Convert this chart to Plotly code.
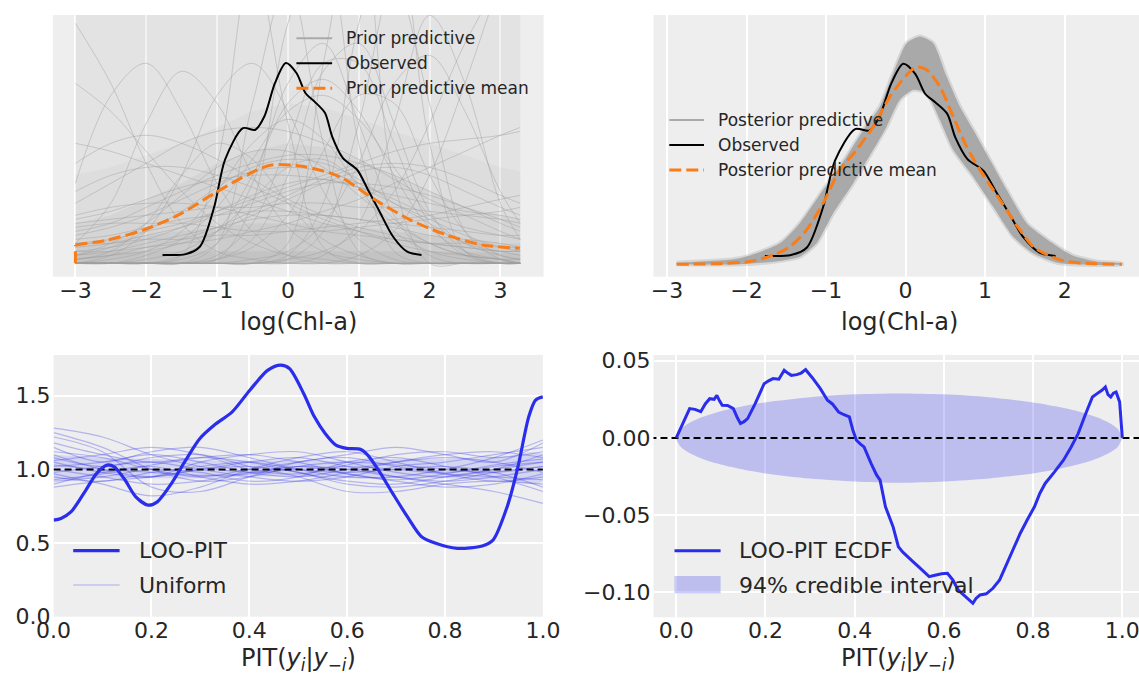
import plotly.graph_objects as go

W, H = 1139, 675

# ---------------- Top-left: prior predictive ----------------
prior_x = [-3.0, -2.5, -2.0, -1.5, -1.0, -0.5, 0.0, 0.5, 1.0, 1.5, 2.0, 2.5, 3.0, 3.28]
prior_lines = [
    [0.10, 0.11, 0.12, 0.13, 0.14, 0.14, 0.15, 0.15, 0.14, 0.14, 0.13, 0.12, 0.11, 0.10],
    [0.02, 0.04, 0.08, 0.13, 0.19, 0.24, 0.26, 0.25, 0.21, 0.15, 0.10, 0.05, 0.03, 0.02],
    [0.00, 0.00, 0.00, 0.00, 0.01, 0.15, 0.60, 0.80, 0.30, 0.03, 0.00, 0.00, 0.00, 0.00],
    [0.00, 0.00, 0.00, 0.00, 0.00, 0.00, 0.01, 0.03, 0.08, 0.18, 0.35, 0.55, 0.70, 0.75],
    [0.05, 0.15, 0.35, 0.48, 0.40, 0.22, 0.09, 0.03, 0.01, 0.00, 0.00, 0.00, 0.00, 0.00],
    [0.00, 0.00, 0.00, 0.02, 0.25, 0.75, 0.35, 0.04, 0.00, 0.00, 0.00, 0.00, 0.00, 0.00],
    [0.00, 0.00, 0.00, 0.00, 0.01, 0.04, 0.12, 0.28, 0.42, 0.40, 0.22, 0.08, 0.02, 0.01],
    [0.05, 0.06, 0.08, 0.10, 0.13, 0.16, 0.19, 0.22, 0.25, 0.28, 0.30, 0.31, 0.32, 0.33],
    [0.45, 0.38, 0.28, 0.18, 0.10, 0.05, 0.02, 0.01, 0.00, 0.00, 0.00, 0.00, 0.00, 0.00],
    [0.06, 0.07, 0.09, 0.11, 0.12, 0.13, 0.13, 0.12, 0.11, 0.09, 0.07, 0.06, 0.05, 0.04],
    [0.00, 0.00, 0.00, 0.00, 0.00, 0.00, 0.00, 0.02, 0.10, 0.35, 0.62, 0.45, 0.15, 0.06],
    [0.00, 0.01, 0.03, 0.08, 0.18, 0.30, 0.36, 0.31, 0.19, 0.08, 0.03, 0.01, 0.00, 0.00],
    [0.00, 0.00, 0.00, 0.00, 0.00, 0.00, 0.05, 0.50, 0.90, 0.20, 0.00, 0.00, 0.00, 0.00],
    [0.01, 0.02, 0.03, 0.05, 0.08, 0.12, 0.16, 0.20, 0.23, 0.24, 0.22, 0.18, 0.14, 0.12],
    [0.20, 0.42, 0.50, 0.38, 0.20, 0.08, 0.02, 0.00, 0.00, 0.00, 0.00, 0.00, 0.00, 0.00],
    [0.01, 0.03, 0.10, 0.22, 0.30, 0.26, 0.15, 0.06, 0.02, 0.00, 0.00, 0.00, 0.00, 0.00],
    [0.00, 0.00, 0.00, 0.00, 0.00, 0.00, 0.01, 0.08, 0.35, 0.70, 0.40, 0.08, 0.01, 0.00],
    [0.08, 0.10, 0.14, 0.18, 0.22, 0.25, 0.27, 0.27, 0.25, 0.22, 0.18, 0.14, 0.10, 0.08],
    [0.15, 0.20, 0.25, 0.30, 0.33, 0.34, 0.33, 0.30, 0.26, 0.21, 0.16, 0.12, 0.08, 0.06],
    [0.00, 0.00, 0.00, 0.00, 0.05, 0.40, 0.70, 0.30, 0.03, 0.00, 0.00, 0.00, 0.00, 0.00],
    [0.30, 0.28, 0.25, 0.22, 0.19, 0.16, 0.13, 0.10, 0.08, 0.06, 0.05, 0.04, 0.03, 0.03],
    [0.00, 0.00, 0.01, 0.03, 0.08, 0.16, 0.24, 0.26, 0.20, 0.11, 0.05, 0.02, 0.01, 0.00],
    [0.02, 0.03, 0.05, 0.07, 0.09, 0.11, 0.12, 0.12, 0.11, 0.10, 0.09, 0.08, 0.07, 0.07],
    [0.00, 0.00, 0.00, 0.01, 0.05, 0.20, 0.45, 0.55, 0.35, 0.12, 0.02, 0.00, 0.00, 0.00],
    [0.12, 0.14, 0.15, 0.15, 0.14, 0.12, 0.10, 0.08, 0.07, 0.06, 0.05, 0.05, 0.04, 0.04],
    [0.00, 0.00, 0.00, 0.00, 0.00, 0.01, 0.03, 0.10, 0.25, 0.45, 0.52, 0.38, 0.18, 0.10],
    [0.04, 0.05, 0.07, 0.09, 0.12, 0.15, 0.18, 0.20, 0.20, 0.19, 0.17, 0.14, 0.11, 0.09],
    [0.00, 0.02, 0.08, 0.22, 0.42, 0.50, 0.38, 0.18, 0.06, 0.01, 0.00, 0.00, 0.00, 0.00],
    [0.09, 0.10, 0.10, 0.10, 0.09, 0.08, 0.08, 0.08, 0.09, 0.10, 0.11, 0.12, 0.13, 0.14],
    [0.00, 0.00, 0.00, 0.00, 0.00, 0.00, 0.00, 0.00, 0.02, 0.08, 0.22, 0.45, 0.70, 0.80],
    [0.01, 0.02, 0.04, 0.06, 0.09, 0.13, 0.17, 0.21, 0.24, 0.25, 0.24, 0.21, 0.17, 0.15],
    [0.60, 0.45, 0.25, 0.10, 0.03, 0.01, 0.00, 0.00, 0.00, 0.00, 0.00, 0.00, 0.00, 0.00],
    [0.03, 0.04, 0.06, 0.09, 0.13, 0.17, 0.20, 0.21, 0.19, 0.15, 0.11, 0.07, 0.04, 0.03],
    [0.00, 0.00, 0.00, 0.00, 0.02, 0.10, 0.30, 0.50, 0.50, 0.30, 0.10, 0.02, 0.00, 0.00],
    [0.07, 0.09, 0.12, 0.16, 0.20, 0.23, 0.24, 0.23, 0.20, 0.16, 0.12, 0.09, 0.07, 0.06],
    [0.00, 0.00, 0.02, 0.06, 0.14, 0.26, 0.38, 0.42, 0.36, 0.24, 0.12, 0.05, 0.02, 0.01],
    [0.18, 0.22, 0.24, 0.24, 0.22, 0.19, 0.15, 0.11, 0.08, 0.05, 0.03, 0.02, 0.01, 0.01],
    [0.00, 0.00, 0.00, 0.00, 0.00, 0.00, 0.02, 0.15, 0.60, 0.85, 0.30, 0.03, 0.00, 0.00],
    [0.05, 0.05, 0.06, 0.06, 0.07, 0.07, 0.08, 0.09, 0.10, 0.11, 0.12, 0.14, 0.16, 0.17],
    [0.02, 0.05, 0.10, 0.17, 0.24, 0.28, 0.28, 0.24, 0.17, 0.10, 0.05, 0.02, 0.01, 0.00],
    [0.00, 0.00, 0.00, 0.02, 0.08, 0.22, 0.40, 0.46, 0.38, 0.22, 0.09, 0.03, 0.01, 0.00],
    [0.11, 0.13, 0.16, 0.19, 0.21, 0.22, 0.22, 0.21, 0.19, 0.17, 0.15, 0.13, 0.12, 0.11],
    [0.00, 0.00, 0.00, 0.00, 0.01, 0.06, 0.22, 0.48, 0.55, 0.35, 0.13, 0.03, 0.00, 0.00],
    [0.25, 0.30, 0.32, 0.30, 0.26, 0.21, 0.16, 0.12, 0.09, 0.07, 0.05, 0.04, 0.03, 0.03],
    [0.03, 0.03, 0.04, 0.05, 0.06, 0.08, 0.10, 0.13, 0.16, 0.20, 0.24, 0.28, 0.32, 0.34],
]
prior_band_top = [0.66, 0.66, 0.66, 0.66, 0.66, 0.66, 0.66, 0.66, 0.66, 0.66, 0.66, 0.66, 0.66, 0.66]
prior_band_upper = [0.22, 0.24, 0.27, 0.30, 0.34, 0.38, 0.40, 0.39, 0.36, 0.33, 0.30, 0.27, 0.24, 0.23]
prior_band_mid = [0.10, 0.12, 0.16, 0.20, 0.25, 0.28, 0.30, 0.29, 0.26, 0.22, 0.18, 0.14, 0.12, 0.11]
prior_band_low = [0.05, 0.06, 0.07, 0.08, 0.09, 0.10, 0.10, 0.10, 0.09, 0.08, 0.07, 0.06, 0.05, 0.05]
prior_band_floor = [0.025, 0.028, 0.03, 0.03, 0.03, 0.03, 0.03, 0.03, 0.03, 0.03, 0.03, 0.028, 0.025, 0.025]
prior_band_zero = [0.0, 0.0, 0.0, 0.0, 0.0, 0.0, 0.0, 0.0, 0.0, 0.0, 0.0, 0.0, 0.0, 0.0]

prior_mean_x = [-3.0, -3.0, -2.552, -2.047, -1.543, -1.039, -0.535, -0.232, 0.222, 0.726,
                1.230, 1.735, 2.239, 2.743, 3.273]
prior_mean_y = [0.0, 0.046, 0.058, 0.083, 0.121, 0.175, 0.225, 0.246, 0.242, 0.217,
                0.159, 0.108, 0.071, 0.046, 0.0375]

obs_x = [-1.770, -1.442, -1.241, -1.039, -0.888, -0.635, -0.459, -0.333, -0.182, -0.030, 0.121,
         0.247, 0.373, 0.524, 0.625, 0.777, 0.978, 1.130, 1.281, 1.483, 1.684, 1.886]
obs_y = [0.021, 0.023, 0.042, 0.142, 0.259, 0.338, 0.334, 0.367, 0.451, 0.501, 0.476,
         0.426, 0.405, 0.376, 0.317, 0.263, 0.234, 0.184, 0.134, 0.067, 0.029, 0.021]

# ---------------- Top-right: posterior predictive ----------------
post_hi_x = [-2.88, -2.084, -1.581, -1.330, -1.036, -0.742, -0.491, -0.323, -0.156, 0.013, 0.180,
             0.347, 0.516, 0.683, 0.850, 1.060, 1.270, 1.522, 1.689, 1.941, 2.1, 2.4, 2.72]
post_hi_y = [0.004, 0.015, 0.0525, 0.1025, 0.186, 0.269, 0.348, 0.394, 0.4775, 0.5525, 0.569,
             0.5525, 0.469, 0.394, 0.336, 0.261, 0.186, 0.1025, 0.075, 0.040, 0.022, 0.007, 0.002]
post_lo_x = [-2.88, -2.084, -1.665, -1.330, -1.120, -0.911, -0.659, -0.407, -0.239, -0.072, 0.096,
             0.264, 0.431, 0.599, 0.850, 1.102, 1.354, 1.605, 1.941, 2.72]
post_lo_y = [0.0, 0.0, 0.0065, 0.019, 0.0525, 0.1275, 0.2025, 0.286, 0.344, 0.411, 0.436,
             0.4275, 0.361, 0.286, 0.219, 0.144, 0.069, 0.0275, 0.0025, 0.0]

post_mean_x = [-2.88, -2.294, -1.958, -1.665, -1.455, -1.245, -1.036, -0.826, -0.616, -0.407, -0.197,
               0.013, 0.138, 0.264, 0.431, 0.599, 0.767, 0.935, 1.102, 1.270, 1.438, 1.605, 1.857,
               2.0, 2.3, 2.72]
post_mean_y = [0.0, 0.002, 0.007, 0.023, 0.044, 0.086, 0.153, 0.236, 0.286, 0.344, 0.419,
               0.473, 0.493, 0.486, 0.444, 0.369, 0.294, 0.236, 0.186, 0.136, 0.086, 0.044, 0.017,
               0.008, 0.002, 0.0]

# ---------------- Bottom-left: LOO-PIT KDE ----------------
loo_x = [0.0, 0.015, 0.036, 0.066, 0.088, 0.109, 0.124, 0.146, 0.168, 0.193, 0.212, 0.241, 0.270,
         0.299, 0.328, 0.365, 0.401, 0.438, 0.464, 0.482, 0.511, 0.533, 0.555, 0.577, 0.599, 0.628,
         0.642, 0.664, 0.693, 0.723, 0.752, 0.781, 0.825, 0.876, 0.898, 0.927, 0.949, 0.971, 0.985, 1.0]
loo_y = [0.656, 0.667, 0.713, 0.860, 0.973, 1.029, 1.018, 0.928, 0.814, 0.758, 0.780, 0.905, 1.063,
         1.210, 1.300, 1.391, 1.538, 1.674, 1.708, 1.685, 1.516, 1.357, 1.244, 1.165, 1.143, 1.136,
         1.097, 0.995, 0.837, 0.679, 0.543, 0.498, 0.464, 0.480, 0.520, 0.747, 1.018, 1.357, 1.471, 1.493]

unif_x = [0.0, 0.1, 0.2, 0.3, 0.4, 0.5, 0.6, 0.7, 0.8, 0.9, 1.0]
unif_lines = [
    [1.28, 1.22, 1.10, 1.02, 0.98, 1.00, 1.02, 1.00, 0.97, 0.95, 0.93],
    [1.25, 1.15, 1.00, 0.92, 0.95, 1.02, 1.05, 1.03, 1.00, 0.98, 1.02],
    [1.22, 1.12, 0.88, 0.85, 0.95, 1.05, 1.08, 1.02, 0.98, 1.02, 1.05],
    [1.18, 1.10, 1.05, 1.08, 1.05, 0.98, 0.92, 0.90, 0.95, 1.00, 1.05],
    [1.15, 1.05, 1.12, 1.15, 1.08, 1.00, 0.95, 0.95, 1.00, 1.08, 1.20],
    [1.12, 1.08, 1.00, 0.95, 1.00, 1.05, 1.10, 1.15, 1.10, 1.05, 1.18],
    [1.10, 1.00, 0.95, 1.00, 1.05, 1.08, 1.02, 0.95, 0.90, 0.85, 0.77],
    [1.08, 1.02, 1.08, 1.10, 1.02, 0.95, 0.85, 0.85, 0.90, 0.92, 0.90],
    [1.05, 0.98, 0.95, 1.05, 1.10, 1.12, 1.05, 0.98, 0.95, 1.00, 1.10],
    [1.02, 1.05, 1.10, 1.05, 0.98, 0.95, 1.00, 1.05, 1.08, 1.05, 0.98],
    [1.00, 0.95, 0.90, 0.92, 0.98, 1.02, 1.00, 0.95, 0.92, 0.95, 1.00],
    [0.98, 1.02, 1.05, 1.00, 0.95, 0.92, 0.95, 1.02, 1.05, 1.10, 1.15],
    [0.95, 0.92, 0.98, 1.02, 1.05, 1.00, 0.98, 1.00, 1.02, 0.98, 0.88],
    [0.92, 0.95, 1.00, 0.98, 0.92, 0.95, 1.05, 1.08, 1.02, 0.95, 0.85],
    [0.90, 0.98, 1.02, 0.95, 0.90, 0.92, 0.98, 1.05, 1.10, 1.12, 1.08],
    [0.88, 0.92, 0.95, 1.00, 1.02, 0.98, 0.90, 0.88, 0.92, 0.98, 1.02],
    [1.06, 1.10, 1.15, 1.10, 1.00, 0.97, 1.03, 1.10, 1.12, 1.08, 1.12],
    [0.97, 0.90, 0.82, 0.88, 1.00, 1.08, 1.12, 1.05, 0.97, 0.92, 0.95],
    [1.03, 1.00, 0.98, 0.96, 0.97, 1.02, 0.97, 0.92, 0.88, 0.90, 0.97],
    [0.93, 0.97, 1.03, 1.08, 1.10, 1.05, 0.97, 0.93, 0.97, 1.03, 1.07],
]
unif_core_lo = [0.93, 0.94, 0.94, 0.94, 0.95, 0.95, 0.94, 0.94, 0.94, 0.93, 0.92]
unif_core_hi = [1.10, 1.08, 1.07, 1.06, 1.06, 1.06, 1.06, 1.07, 1.07, 1.08, 1.10]
unif_ref = 1.0

# ---------------- Bottom-right: LOO-PIT ECDF difference ----------------
ecdf_x = [0, 0.014, 0.030, 0.042, 0.055, 0.065, 0.075, 0.085, 0.091, 0.097, 0.103, 0.115, 0.128,
          0.137, 0.144, 0.152, 0.160, 0.177, 0.197, 0.207, 0.217, 0.230, 0.242, 0.250, 0.258, 0.270,
          0.280, 0.290, 0.305, 0.323, 0.339, 0.350, 0.364, 0.376, 0.388, 0.396, 0.404, 0.413, 0.421,
          0.437, 0.449, 0.457, 0.469, 0.486, 0.498, 0.508, 0.518, 0.530, 0.543, 0.555, 0.567, 0.580,
          0.595, 0.608, 0.620, 0.632, 0.650, 0.665, 0.672, 0.681, 0.695, 0.710, 0.725, 0.738, 0.755,
          0.771, 0.787, 0.803, 0.815, 0.827, 0.848, 0.868, 0.885, 0.901, 0.917, 0.933, 0.945, 0.955,
          0.962, 0.968, 0.974, 0.980, 0.986, 0.994, 1.0]
ecdf_y = [0, 0.0093, 0.019, 0.0185, 0.017, 0.022, 0.0254, 0.025, 0.0276, 0.024, 0.0211, 0.021, 0.019,
          0.013, 0.0093, 0.0105, 0.0125, 0.0222, 0.0351, 0.037, 0.0384, 0.038, 0.0438, 0.042, 0.0405,
          0.041, 0.042, 0.0442, 0.039, 0.0319, 0.0244, 0.022, 0.0168, 0.015, 0.0136, 0.005, -0.0015,
          -0.004, -0.0058, -0.0166, -0.024, -0.0274, -0.0446, -0.0575, -0.0705, -0.074, -0.0769,
          -0.080, -0.0834, -0.087, -0.0899, -0.089, -0.088, -0.0877, -0.092, -0.0985, -0.103,
          -0.1071, -0.104, -0.1017, -0.101, -0.0974, -0.092, -0.0834, -0.073, -0.0619, -0.053,
          -0.0446, -0.036, -0.0295, -0.022, -0.0144, -0.006, 0.0028, 0.015, 0.0265, 0.029, 0.031,
          0.033, 0.028, 0.0265, 0.029, 0.0297, 0.0233, 0]
band_x = [0.0, 0.01, 0.03, 0.06, 0.10, 0.15, 0.20, 0.30, 0.40, 0.50, 0.60, 0.70, 0.80, 0.85, 0.90,
          0.94, 0.97, 0.99, 1.0]
band_hi = [0.0, 0.0057, 0.0098, 0.0137, 0.0173, 0.0205, 0.0230, 0.0263, 0.0282, 0.0288, 0.0282,
           0.0263, 0.0230, 0.0205, 0.0173, 0.0137, 0.0098, 0.0057, 0.0]
band_lo = [0.0, -0.0057, -0.0098, -0.0137, -0.0173, -0.0205, -0.0230, -0.0263, -0.0282, -0.0290,
           -0.0282, -0.0263, -0.0230, -0.0205, -0.0173, -0.0137, -0.0098, -0.0057, 0.0]
ecdf_ref = 0.0

# ---------------- tick labels ----------------
top_left_ticks = [-3, -2, -1, 0, 1, 2, 3]
top_right_ticks = [-3, -2, -1, 0, 1, 2]
pit_ticks = [0.0, 0.2, 0.4, 0.6, 0.8, 1.0]
pit_tick_text = ["0.0", "0.2", "0.4", "0.6", "0.8", "1.0"]
kde_y_ticks = [0.0, 0.5, 1.0, 1.5]
kde_y_text = ["0.0", "0.5", "1.0", "1.5"]
ecdf_y_ticks = [0.05, 0.0, -0.05, -0.10]
ecdf_y_text = ["0.05", "0.00", "\u22120.05", "\u22120.10"]

# ---------------- colours ----------------
BG = "#eeeeee"
GRID = "#ffffff"
TXT = "#262626"
ORANGE = "#fa7c17"
BLUE = "#2a2eec"
FONT = "DejaVu Sans"

fig = go.Figure()


def band(xs, lo, hi, color, xa, ya, shape="linear", smoothing=1.0):
    fig.add_trace(go.Scatter(x=list(xs) + list(xs)[::-1], y=list(hi) + list(lo)[::-1],
                             fill="toself", fillcolor=color,
                             line=dict(width=0, shape=shape, smoothing=smoothing),
                             mode="lines", hoverinfo="skip", showlegend=False, xaxis=xa, yaxis=ya))


# --- top-left traces
band(prior_x, prior_band_zero, prior_band_top, "rgba(150,150,150,0.12)", "x", "y")
band(prior_x, prior_band_zero, prior_band_upper, "rgba(150,150,150,0.08)", "x", "y")
band(prior_x, prior_band_zero, prior_band_mid, "rgba(150,150,150,0.10)", "x", "y")
band(prior_x, prior_band_zero, prior_band_low, "rgba(150,150,150,0.13)", "x", "y")
band(prior_x, prior_band_zero, prior_band_floor, "rgba(150,150,150,0.15)", "x", "y")
for ln in prior_lines:
    fig.add_trace(go.Scatter(x=prior_x, y=ln, mode="lines",
                             line=dict(color="rgba(160,160,160,0.45)", width=1, shape="spline"),
                             hoverinfo="skip", showlegend=False, xaxis="x", yaxis="y"))
fig.add_trace(go.Scatter(x=obs_x, y=obs_y, mode="lines",
                         line=dict(color="black", width=2, shape="spline", smoothing=0.8),
                         showlegend=False, xaxis="x", yaxis="y"))
fig.add_trace(go.Scatter(x=prior_mean_x[:2], y=prior_mean_y[:2], mode="lines",
                         line=dict(color=ORANGE, width=3, dash="12px,5px"),
                         showlegend=False, xaxis="x", yaxis="y"))
fig.add_trace(go.Scatter(x=prior_mean_x[1:], y=prior_mean_y[1:], mode="lines",
                         line=dict(color=ORANGE, width=3, dash="12px,5px", shape="spline", smoothing=0.8),
                         showlegend=False, xaxis="x", yaxis="y"))

# --- top-right traces
fig.add_trace(go.Scatter(x=list(post_hi_x) + list(post_lo_x)[::-1], y=list(post_hi_y) + list(post_lo_y)[::-1],
                         fill="toself", fillcolor="#a9a9a9",
                         line=dict(width=4, color="rgba(169,169,169,0.35)", shape="spline", smoothing=0.6),
                         mode="lines", hoverinfo="skip", showlegend=False, xaxis="x2", yaxis="y2"))
fig.add_trace(go.Scatter(x=obs_x, y=obs_y, mode="lines",
                         line=dict(color="black", width=2, shape="spline", smoothing=0.8),
                         showlegend=False, xaxis="x2", yaxis="y2"))
fig.add_trace(go.Scatter(x=post_mean_x, y=post_mean_y, mode="lines",
                         line=dict(color=ORANGE, width=3, dash="12px,5px", shape="spline", smoothing=0.8),
                         showlegend=False, xaxis="x2", yaxis="y2"))

# --- bottom-left traces
band(unif_x, unif_core_lo, unif_core_hi, "rgba(42,46,236,0.13)", "x3", "y3", shape="spline")
for ln in unif_lines:
    fig.add_trace(go.Scatter(x=unif_x, y=ln, mode="lines",
                             line=dict(color="rgba(42,46,236,0.30)", width=1.2, shape="spline"),
                             hoverinfo="skip", showlegend=False, xaxis="x3", yaxis="y3"))
fig.add_trace(go.Scatter(x=[0, 1], y=[unif_ref, unif_ref], mode="lines",
                         line=dict(color="black", width=2, dash="7px,4px"),
                         showlegend=False, xaxis="x3", yaxis="y3"))
fig.add_trace(go.Scatter(x=loo_x, y=loo_y, mode="lines",
                         line=dict(color=BLUE, width=3.2, shape="spline", smoothing=0.8),
                         showlegend=False, xaxis="x3", yaxis="y3"))

# --- bottom-right traces
band(band_x, band_lo, band_hi, "rgba(42,46,236,0.25)", "x4", "y4", shape="spline", smoothing=0.8)
fig.add_trace(go.Scatter(x=[-0.06, 1.1], y=[ecdf_ref, ecdf_ref], mode="lines",
                         line=dict(color="black", width=2, dash="7px,4px"),
                         showlegend=False, xaxis="x4", yaxis="y4"))
fig.add_trace(go.Scatter(x=ecdf_x, y=ecdf_y, mode="lines",
                         line=dict(color=BLUE, width=3),
                         showlegend=False, xaxis="x4", yaxis="y4"))


# --- axes
def px_x(v):
    return v / W


def px_y(v):
    return 1 - v / H


tickfont = dict(family=FONT, size=22, color=TXT)
xcommon = dict(showline=False, zeroline=False, ticks="", gridcolor=GRID, gridwidth=1.6,
               tickfont=tickfont, ticklabelstandoff=-2, automargin=False, ticklabeloverflow="allow")
ycommon = dict(showline=False, zeroline=False, ticks="", gridcolor=GRID, gridwidth=1.6,
               tickfont=tickfont, ticklabelstandoff=2, automargin=False, ticklabeloverflow="allow")
yhidden = dict(showticklabels=False, showgrid=False, zeroline=False, ticks="", automargin=False)

fig.update_layout(
    width=W, height=H, margin=dict(l=0, r=0, t=0, b=0, autoexpand=False),
    paper_bgcolor="white", plot_bgcolor=BG, showlegend=False,
    font=dict(family=FONT, color=TXT),
    xaxis=dict(domain=[px_x(52.9), px_x(543.6)], range=[-3.318, 3.610], anchor="y",
               tickmode="array", tickvals=top_left_ticks,
               ticktext=[("\u2212" + str(-t)) if t < 0 else str(t) for t in top_left_ticks], **xcommon),
    yaxis=dict(domain=[px_y(276.7), px_y(15)], range=[-0.0335, 0.621], anchor="x", **yhidden),
    xaxis2=dict(domain=[px_x(653.5), 1.0], range=[-3.17, 2.935], anchor="y2",
                tickmode="array", tickvals=top_right_ticks,
                ticktext=[("\u2212" + str(-t)) if t < 0 else str(t) for t in top_right_ticks], **xcommon),
    yaxis2=dict(domain=[px_y(276.7), px_y(15)], range=[-0.031, 0.623], anchor="x2", **yhidden),
    xaxis3=dict(domain=[px_x(53.6), px_x(542.9)], range=[0, 1], anchor="y3",
                tickmode="array", tickvals=pit_ticks, ticktext=pit_tick_text, **xcommon),
    yaxis3=dict(domain=[px_y(616.7), px_y(355)], range=[0, 1.777], anchor="x3",
                tickmode="array", tickvals=kde_y_ticks, ticktext=kde_y_text, **ycommon),
    xaxis4=dict(domain=[px_x(653.5), 1.0], range=[-0.051, 1.0374], anchor="y4",
                tickmode="array", tickvals=pit_ticks, ticktext=pit_tick_text, **xcommon),
    yaxis4=dict(domain=[px_y(617.3), px_y(355)], range=[-0.1162, 0.0537], anchor="x4",
                tickmode="array", tickvals=ecdf_y_ticks, ticktext=ecdf_y_text, **ycommon),
)

# --- axis titles
pit_label = "PIT(<i>y</i><sub><i>i</i></sub>|<i>y</i><sub>\u2212<i>i</i></sub>)"
for txt, cx, cy in [("log(Chl-a)", 298.3, 321.7), ("log(Chl-a)", 899.0, 321.7),
                    (pit_label, 298.0, 659.5), (pit_label, 898.4, 659.5)]:
    fig.add_annotation(text=txt, x=px_x(cx), y=px_y(cy), xref="paper", yref="paper",
                       showarrow=False, xanchor="center", yanchor="middle",
                       font=dict(family=FONT, size=24, color=TXT))


# --- legends (drawn manually)
def leg_line(x0, x1, y, color, width, dash=None):
    fig.add_shape(type="line", xref="paper", yref="paper", x0=px_x(x0), x1=px_x(x1),
                  y0=px_y(y), y1=px_y(y), line=dict(color=color, width=width, dash=dash))


def leg_text(x, y, text, size):
    fig.add_annotation(text=text, x=px_x(x), y=px_y(y), xref="paper", yref="paper",
                       showarrow=False, xanchor="left", yanchor="middle",
                       font=dict(family=FONT, size=size, color=TXT))


# top-left
leg_line(296.4, 332.1, 38.3, "#aaaaaa", 2)
leg_line(296.4, 332.1, 63.3, "black", 2)
leg_line(296.4, 332.1, 88.3, ORANGE, 3, "12px,5px")
leg_text(343.5, 38.3, "Prior predictive", 17)
leg_text(343.5, 63.3, "Observed", 17)
leg_text(343.5, 88.3, "Prior predictive mean", 17)
# top-right
leg_line(669.3, 704.0, 120, "#aaaaaa", 2)
leg_line(669.3, 704.0, 145, "black", 2)
leg_line(669.3, 704.0, 170, ORANGE, 3, "12px,5px")
leg_text(715.5, 120, "Posterior predictive", 17)
leg_text(715.5, 145, "Observed", 17)
leg_text(715.5, 170, "Posterior predictive mean", 17)
# bottom-left
leg_line(73.2, 119.6, 550.7, BLUE, 3.2)
leg_line(73.2, 119.6, 585.0, "rgba(42,46,236,0.35)", 1.2)
leg_text(136.5, 550.7, "LOO-PIT", 22)
leg_text(136.5, 585.0, "Uniform", 22)
# bottom-right
leg_line(674.5, 720.6, 550.7, BLUE, 3)
fig.add_shape(type="rect", xref="paper", yref="paper", x0=px_x(674.5), x1=px_x(720.6),
              y0=px_y(593.3), y1=px_y(576.0), fillcolor="rgba(42,46,236,0.25)", line=dict(width=0))
leg_text(736.5, 550.7, "LOO-PIT ECDF", 22)
leg_text(736.5, 585.0, "94% credible interval", 22)

fig.write_html("out.html")
